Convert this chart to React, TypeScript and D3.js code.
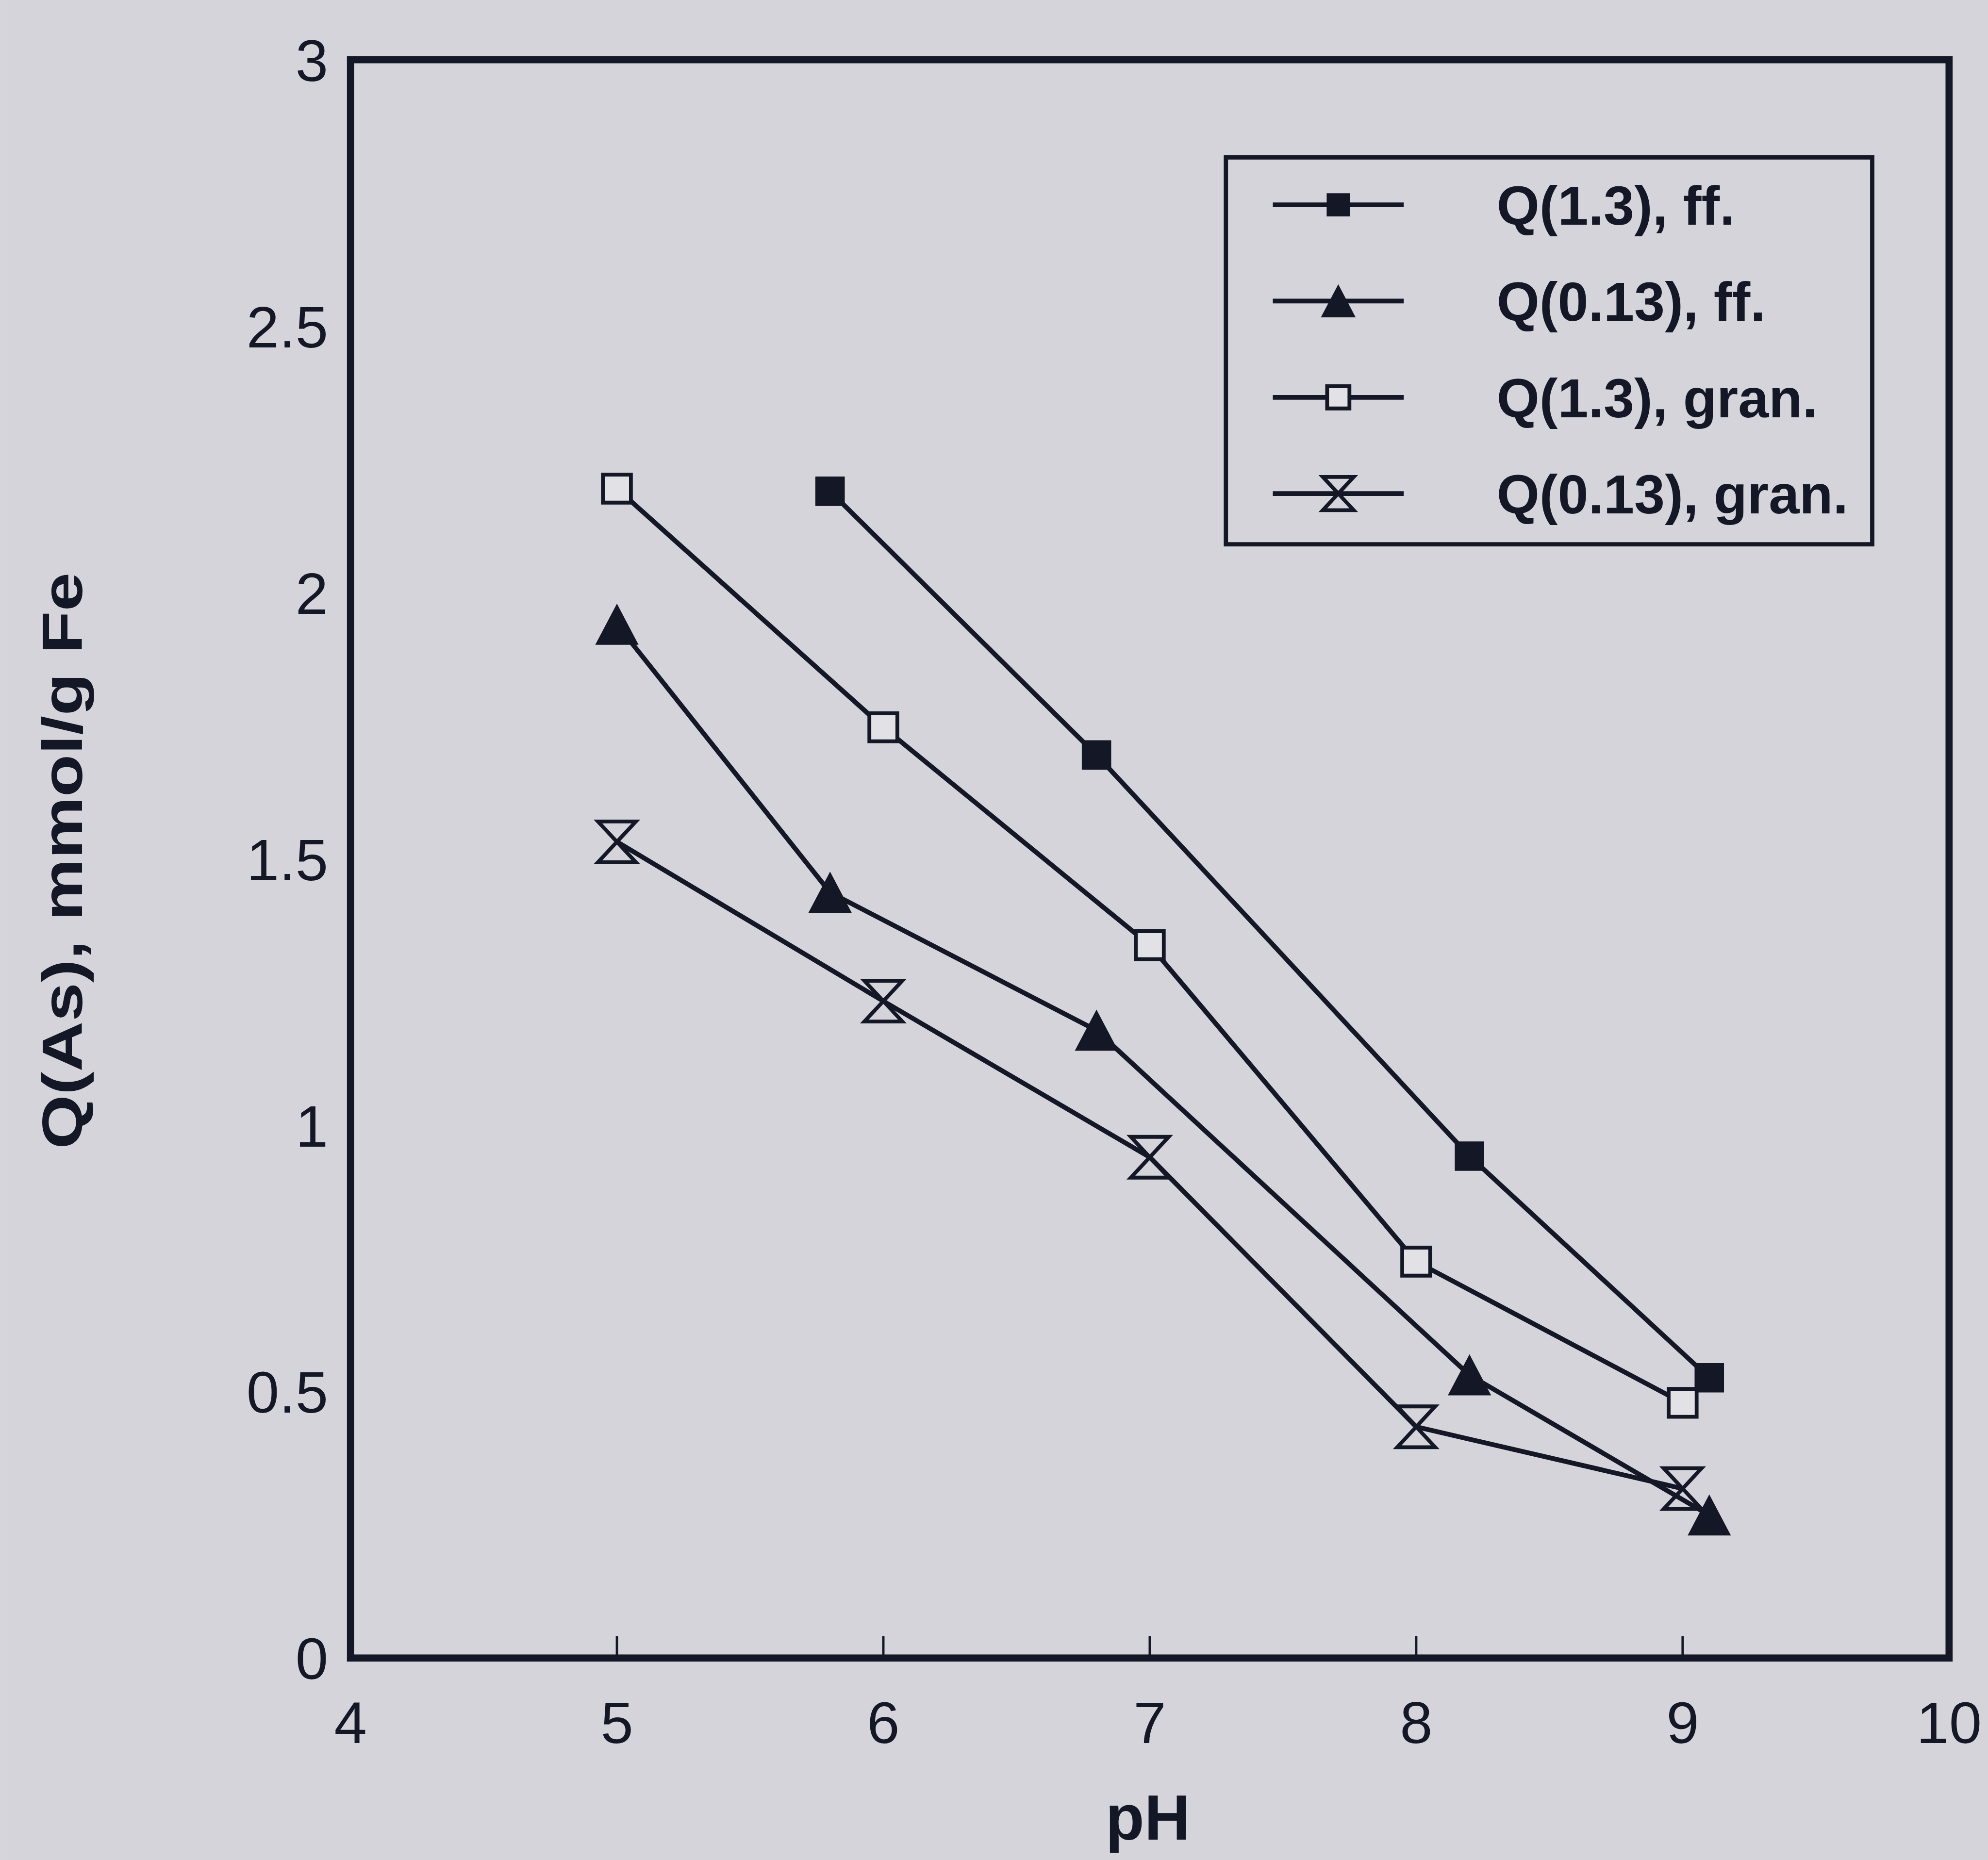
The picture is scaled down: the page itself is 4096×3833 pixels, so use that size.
import * as d3 from "d3";

// pH values and Q(As) readings, mmol/g Fe
const phFF = [5.8, 6.8, 8.2, 9.1];
const q13FF = [2.19, 1.695, 0.942, 0.526];
const phFFlow = [5.0, 5.8, 6.8, 8.2, 9.1];
const q013FF = [1.94, 1.437, 1.178, 0.531, 0.268];
const phGran = [5, 6, 7, 8, 9];
const q13Gran = [2.195, 1.747, 1.338, 0.744, 0.479];
const q013Gran = [1.532, 1.233, 0.94, 0.434, 0.318];

const xTicks = [4, 5, 6, 7, 8, 9, 10];
const yTicks = [0, 0.5, 1, 1.5, 2, 2.5, 3];
const legendLabels = ["Q(1.3), ff.", "Q(0.13), ff.", "Q(1.3), gran.", "Q(0.13), gran."];
const markerKinds = ["filledSquare", "filledTriangle", "openSquare", "hourglass"];

const W = 4192;
const H = 3923;
const BG = "#d4d4da";
const INK = "#141726";

function markerPath(kind: string, s: number) {
  const h = s / 2;
  if (kind === "filledSquare" || kind === "openSquare") {
    return `M${-h},${-h}H${h}V${h}H${-h}Z`;
  }
  if (kind === "filledTriangle") {
    return `M0,${-h * 0.95}L${h},${h * 0.95}H${-h}Z`;
  }
  // hourglass
  return `M${-h * 0.93},${-h}H${h * 0.93}L0,0L${h * 0.93},${h}H${-h * 0.93}L0,0Z`;
}

function markerStyle(kind: string) {
  if (kind === "openSquare") return { fill: "#e2e2e6", stroke: INK, strokeWidth: 8 };
  if (kind === "hourglass") return { fill: "none", stroke: INK, strokeWidth: 8 };
  return { fill: INK, stroke: INK, strokeWidth: 2 };
}

export default function App() {
  const x = d3.scaleLinear().domain([4, 10]).range([739, 4110]);
  const y = d3.scaleLinear().domain([0, 3]).range([3497, 126]);

  const series = [
    { xs: phFF, ys: q13FF, kind: markerKinds[0], size: 60 },
    { xs: phFFlow, ys: q013FF, kind: markerKinds[1], size: 88 },
    { xs: phGran, ys: q13Gran, kind: markerKinds[2], size: 59 },
    { xs: phGran, ys: q013Gran, kind: markerKinds[3], size: 86 },
  ];

  const line = d3
    .line<[number, number]>()
    .x((d) => x(d[0]))
    .y((d) => y(d[1]));

  const [x0, x1] = x.range();
  const [y0, y1] = y.range();

  const legX = 2585;
  const legY = 332;
  const legW = 1363;
  const legH = 816;
  const rowY = (i: number) => 432 + i * 203;

  return (
    <svg
      width={4096}
      height={3833}
      viewBox={`0 0 ${W} ${H}`}
      style={{ position: "absolute", left: 0, top: 0, display: "block" }}
      fontFamily="'Liberation Sans', Arial, sans-serif"
    >
      <rect x={0} y={0} width={W} height={H} fill={BG} />

      {/* series lines */}
      {series.map((s, i) => (
        <path
          key={`l${i}`}
          d={line(s.xs.map((v, j) => [v, s.ys[j]] as [number, number])) || ""}
          fill="none"
          stroke={INK}
          strokeWidth={10}
          strokeLinejoin="round"
        />
      ))}

      {/* markers */}
      {series.map((s, i) =>
        s.xs.map((v, j) => (
          <path
            key={`m${i}-${j}`}
            transform={`translate(${x(v)},${y(s.ys[j])})`}
            d={markerPath(s.kind, s.size)}
            {...markerStyle(s.kind)}
          />
        ))
      )}

      {/* frame */}
      <rect
        x={x0}
        y={y1}
        width={x1 - x0}
        height={y0 - y1}
        fill="none"
        stroke={INK}
        strokeWidth={15}
      />

      {/* bottom ticks, inward */}
      {xTicks.slice(1, -1).map((t) => (
        <line key={`xt${t}`} x1={x(t)} x2={x(t)} y1={y0} y2={y0 - 46} stroke={INK} strokeWidth={5} />
      ))}

      {/* tick labels */}
      {xTicks.map((t) => (
        <text key={`xl${t}`} x={x(t)} y={3676} textAnchor="middle" fontSize={124} fill={INK}>
          {t}
        </text>
      ))}
      {yTicks.map((t) => (
        <text key={`yl${t}`} x={692} y={y(t)} dy="0.36em" textAnchor="end" fontSize={124} fill={INK}>
          {t}
        </text>
      ))}

      {/* axis titles */}
      <text x={(x0 + x1) / 2 - 4} y={3880} textAnchor="middle" fontSize={134} fontWeight="bold" fill={INK}>
        pH
      </text>
      <text
        transform={`translate(173,${(y0 + y1) / 2 + 4}) rotate(-90)`}
        textAnchor="middle"
        fontSize={120}
        fontWeight="bold"
        fill={INK}
        textLength={1216}
        lengthAdjust="spacingAndGlyphs"
      >
        Q(As), mmol/g Fe
      </text>

      {/* legend */}
      <rect x={legX} y={legY} width={legW} height={legH} fill="none" stroke={INK} strokeWidth={9} />
      {legendLabels.map((lab, i) => (
        <g key={`lg${i}`}>
          <line x1={2684} x2={2960} y1={rowY(i)} y2={rowY(i)} stroke={INK} strokeWidth={10} />
          <path
            transform={`translate(2822,${rowY(i)})`}
            d={markerPath(markerKinds[i], markerKinds[i] === "filledTriangle" || markerKinds[i] === "hourglass" ? 70 : 47)}
            {...markerStyle(markerKinds[i])}
          />
          <text x={3156} y={rowY(i)} dy="0.36em" fontSize={116} fontWeight="bold" fill={INK}>
            {lab}
          </text>
        </g>
      ))}
    </svg>
  );
}
